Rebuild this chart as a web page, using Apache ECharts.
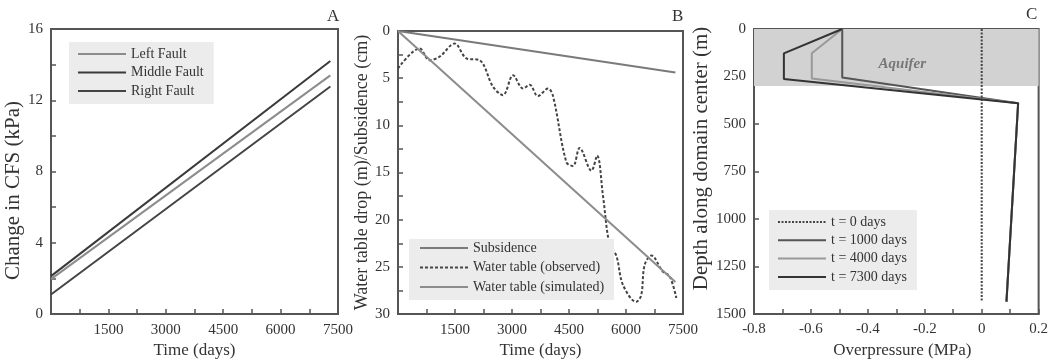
<!DOCTYPE html>
<html>
<head>
<meta charset="utf-8">
<script src="https://cdn.jsdelivr.net/npm/echarts@6/dist/echarts.min.js"></script>
<style>
  html, body { margin: 0; padding: 0; background: #fff; }
  #chart { width: 1051px; height: 364px; }
</style>
</head>
<body>
<div id="chart"></div>
<script>
// A: change in CFS
const faultDays = [0, 7300]
const leftFault = [1.96, 13.4]
const middleFault = [2.13, 14.2]
const rightFault = [1.1, 12.77]

// B: water table / subsidence
const simDays = [0, 7300]
const subsidence = [0, 4.4]
const waterSimulated = [0, 26.6]
const obsDays = [0, 570, 830, 1100, 1490, 1800, 2150, 2500, 2760, 3030, 3290, 3465, 3680, 3950, 4080,
  4430, 4605, 4780, 5090, 5240, 5395, 5570, 5745, 5920, 6270, 6400, 6490, 6670, 6970, 7150, 7325]
const waterObserved = [3.96, 1.86, 3.1, 2.7, 1.33, 2.9, 3.1, 5.9, 6.8, 4.7, 6.1, 5.7, 6.9, 6.1, 6.9,
  13.9, 14.3, 12.4, 14.8, 13.2, 17.5, 22.7, 23.8, 26.9, 28.7, 28.0, 24.8, 23.8, 25.5, 26.0, 28.3]

// C: overpressure profiles
const t0Pressure = [0, 0]
const t0Depth = [0, 1435]
const t1000Pressure = [-0.49, -0.49, 0.128, 0.087]
const t1000Depth = [0, 255, 391, 1435]
const t4000Pressure = [-0.49, -0.597, -0.597, 0.128, 0.087]
const t4000Depth = [0, 128, 260, 391, 1435]
const t7300Pressure = [-0.49, -0.695, -0.695, 0.128, 0.087]
const t7300Depth = [0, 128, 263, 391, 1435]
const aquiferDepth = [0, 300]

const pairs = (xs, ys) => xs.map((x, i) => [x, ys[i]])

const font = 'Liberation Serif'
const frame = '#555'
const dark = '#3a3a3a'
const gray = '#8c8c8c'

// shared axis styling
const baseAxis = {
  axisLine: { show: true, onZero: false, lineStyle: { color: frame, width: 2 } },
  axisTick: { show: true, inside: true, length: 5, lineStyle: { color: frame, width: 1.5 } },
  splitLine: { show: false },
  axisLabel: { color: '#333', fontFamily: font, fontSize: 15, margin: 8 },
  nameLocation: 'middle',
  nameTextStyle: { color: '#333', fontFamily: font, fontSize: 17 }
}

const everyOther = (step) => (v) => {
  const r = Math.round(v / step)
  return (r % 2 === 0 && r !== 0) ? String(v) : ''
}

const grid = [
  { left: 51, top: 29, width: 287, height: 286, show: true, borderColor: frame, borderWidth: 2 },
  { left: 398, top: 31, width: 285, height: 285, show: true, borderColor: frame, borderWidth: 2 },
  { left: 754, top: 29, width: 287, height: 285, show: true, borderColor: frame, borderWidth: 2 }
]

const xAxis = [
  {
    ...baseAxis, type: 'value', gridIndex: 0, min: 0, max: 7500, interval: 750,
    name: 'Time (days)', nameGap: 17,
    axisLabel: { ...baseAxis.axisLabel, formatter: everyOther(750) }
  },
  {
    ...baseAxis, type: 'value', gridIndex: 1, min: 0, max: 7500, interval: 750,
    name: 'Time (days)', nameGap: 17,
    axisLabel: { ...baseAxis.axisLabel, formatter: everyOther(750) }
  },
  {
    ...baseAxis, type: 'value', gridIndex: 2, min: -0.8, max: 0.2, interval: 0.1,
    name: 'Overpressure (MPa)', nameGap: 17,
    nameTextStyle: { ...baseAxis.nameTextStyle, padding: [0, 0, 0, 12] },
    axisLabel: {
      ...baseAxis.axisLabel,
      formatter: (v) => {
        const r = Math.round(v * 10)
        if (r % 2 !== 0) return ''
        return r === 0 ? '0' : (r / 10).toFixed(1)
      }
    }
  }
]

const yAxis = [
  {
    ...baseAxis, type: 'value', gridIndex: 0, min: 0, max: 16, interval: 2,
    name: 'Change in CFS (kPa)', nameGap: 23,
    nameTextStyle: { ...baseAxis.nameTextStyle, fontSize: 21, padding: [0, 38, 0, 0] },
    axisLabel: { ...baseAxis.axisLabel, formatter: (v) => (v % 4 === 0 ? String(v) : '') }
  },
  {
    ...baseAxis, type: 'value', gridIndex: 1, min: 0, max: 30, interval: 2.5, inverse: true,
    name: 'Water table drop (m)/Subsidence (cm)', nameGap: 23,
    nameTextStyle: { ...baseAxis.nameTextStyle, fontSize: 18 },
    axisLabel: { ...baseAxis.axisLabel, formatter: (v) => (v % 5 === 0 ? String(v) : '') }
  },
  {
    ...baseAxis, type: 'value', gridIndex: 2, min: 0, max: 1500, interval: 250, inverse: true,
    name: 'Depth along domain center (m)', nameGap: 38,
    nameTextStyle: { ...baseAxis.nameTextStyle, fontSize: 21, padding: [0, 0, 0, 26] },
    axisLabel: { ...baseAxis.axisLabel, formatter: (v) => String(v) }
  }
]

const line = (name, xi, data, color, type, z) => ({
  name,
  type: 'line',
  xAxisIndex: xi,
  yAxisIndex: xi,
  data,
  symbol: 'none',
  z: z || 3,
  lineStyle: { color, width: 2, type: type || 'solid' },
  itemStyle: { color }
})

const series = [
  line('Left Fault', 0, pairs(faultDays, leftFault), gray),
  line('Middle Fault', 0, pairs(faultDays, middleFault), dark),
  line('Right Fault', 0, pairs(faultDays, rightFault), '#444'),

  line('Subsidence', 1, pairs(simDays, subsidence), '#7a7a7a'),
  { ...line('Water table (observed)', 1, pairs(obsDays, waterObserved), '#444', [3, 2]), smooth: 0.35 },
  line('Water table (simulated)', 1, pairs(simDays, waterSimulated), gray),

  {
    type: 'line', xAxisIndex: 2, yAxisIndex: 2, data: [], z: 1, silent: true,
    markArea: {
      silent: true,
      itemStyle: { color: '#d2d2d2' },
      label: {
        show: true, position: 'inside', offset: [6, 7], formatter: 'Aquifer',
        color: '#777', fontFamily: font, fontStyle: 'italic', fontWeight: 'bold', fontSize: 15
      },
      data: [[{ xAxis: -0.8, yAxis: aquiferDepth[0] }, { xAxis: 0.2, yAxis: aquiferDepth[1] }]]
    }
  },
  line('t = 0 days', 2, pairs(t0Pressure, t0Depth), '#444', [2, 1.5]),
  line('t = 1000 days', 2, pairs(t1000Pressure, t1000Depth), '#555'),
  line('t = 4000 days', 2, pairs(t4000Pressure, t4000Depth), '#999'),
  line('t = 7300 days', 2, pairs(t7300Pressure, t7300Depth), '#333')
]

const legendBase = {
  orient: 'vertical',
  backgroundColor: '#ececec',
  itemWidth: 48,
  itemHeight: 14,
  align: 'left',
  itemStyle: { opacity: 0 },
  textStyle: { color: '#333', fontFamily: font, fontSize: 14 }
}

const legend = [
  { ...legendBase, left: 69, top: 42, padding: [5, 10, 6, 8], itemGap: 4.5,
    data: ['Left Fault', 'Middle Fault', 'Right Fault'] },
  { ...legendBase, left: 409, top: 239, padding: [2, 10, 6, 10], itemGap: 5.5,
    data: ['Subsidence', 'Water table (observed)', 'Water table (simulated)'] },
  { ...legendBase, left: 769, top: 210, padding: [5, 10, 6, 8], itemGap: 4.3,
    data: ['t = 0 days', 't = 1000 days', 't = 4000 days', 't = 7300 days'] }
]

const panelTitle = (text, left, top) => ({
  text, left, top, padding: 0,
  textStyle: { color: '#333', fontFamily: font, fontSize: 17, fontWeight: 'normal' }
})

const option = {
  animation: false,
  backgroundColor: '#fff',
  title: [panelTitle('A', 327, 8), panelTitle('B', 672, 8), panelTitle('C', 1026, 6)],
  legend,
  grid,
  xAxis,
  yAxis,
  series
}

const chart = echarts.init(document.getElementById('chart'))
chart.setOption(option)
</script>
</body>
</html>
